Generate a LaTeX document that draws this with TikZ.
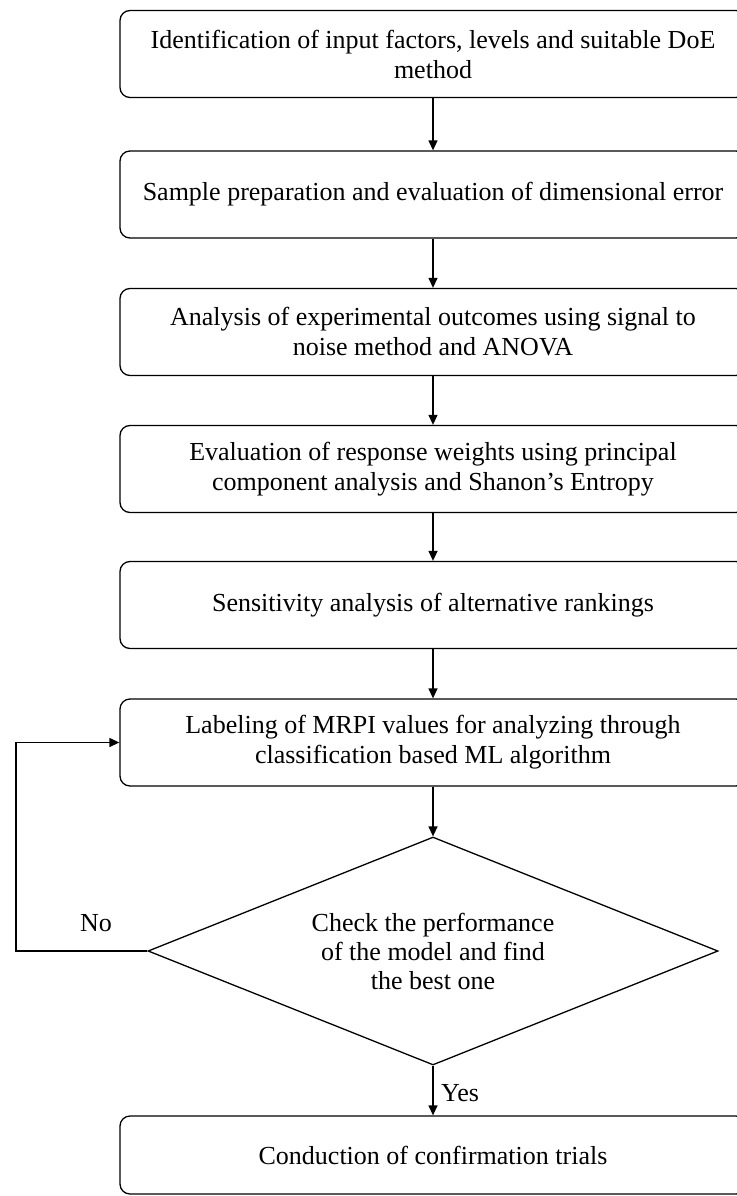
\documentclass[tikz,border=0pt]{standalone}
\usepackage{fontspec}
\setmainfont{Liberation Serif}
\usetikzlibrary{shapes.geometric,arrows.meta}
\begin{document}
\begin{tikzpicture}[x=1pt,y=-1pt,
  stepbox/.style={draw=black, line width=1.3pt, rounded corners=10pt,
    minimum width=626pt, minimum height=87pt, inner sep=0pt, align=center,
    font=\fontsize{26pt}{30pt}\selectfont},
  decision/.style={draw=black, line width=1.3pt, diamond, aspect=2.5,
    minimum width=570pt, minimum height=228pt, inner sep=0pt, align=center,
    font=\fontsize{26pt}{29pt}\selectfont},
  arr/.style={draw=black, line width=1.3pt, -{Triangle[length=10pt,width=9pt]}},
  lbl/.style={font=\fontsize{26pt}{30pt}\selectfont, inner sep=0pt}]
\useasboundingbox (0,0) rectangle (736,1196);
\node[stepbox] (b1) at (433,54) {Identification of input factors, levels and suitable DoE\\method};
\node[stepbox] (b2) at (433,194.5) {Sample preparation and evaluation of dimensional error};
\node[stepbox] (b3) at (433,332) {Analysis of experimental outcomes using signal to\\noise method and ANOVA};
\node[stepbox] (b4) at (433,469) {Evaluation of response weights using principal\\component analysis and Shanon’s Entropy};
\node[stepbox] (b5) at (433,605) {Sensitivity analysis of alternative rankings};
\node[stepbox] (b6) at (433,742.5) {Labeling of MRPI values for analyzing through\\classification based ML algorithm};
\node[decision] (d) at (433,951) {Check the performance\\of the model and find\\the best one};
\node[stepbox, minimum height=78pt] (b7) at (433,1155) {Conduction of confirmation trials};
\coordinate (lp) at (16,951);
\draw[arr] (b1) -- (b2);
\draw[arr] (b2) -- (b3);
\draw[arr] (b3) -- (b4);
\draw[arr] (b4) -- (b5);
\draw[arr] (b5) -- (b6);
\draw[arr] (b6) -- (d);
\draw[arr] (d) -- (b7);
\draw[arr] (d.west) -- (lp) |- (b6.west);
\node[lbl] (no) at (96,923) {No};
\node[lbl, anchor=west] (yes) at (441,1093) {Yes};
\end{tikzpicture}
\end{document}
